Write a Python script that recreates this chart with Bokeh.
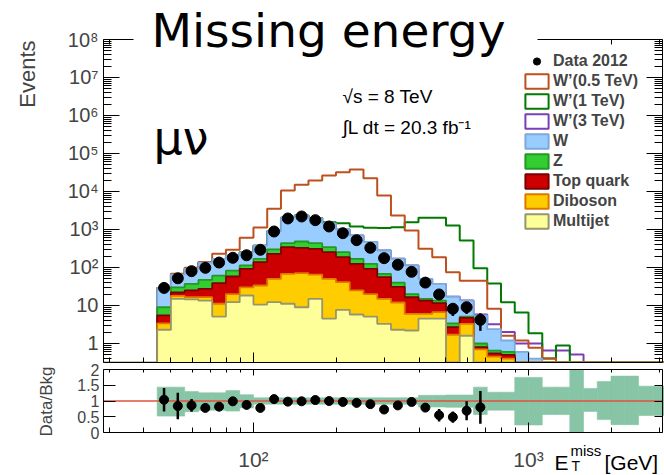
import numpy as np
from bokeh.plotting import figure
from bokeh.layouts import column
from bokeh.models import (Range1d, FixedTicker, LogAxis, LinearAxis, CustomJSTickFormatter,
                          Label, Legend, LegendItem, BoxAnnotation)
from bokeh.embed import file_html
from bokeh.resources import INLINE

# ---------------- data ----------------
bin_edges = [44.67, 50.12, 56.23, 63.10, 70.79, 79.43, 89.13, 100.0, 112.2, 125.9, 141.3,
             158.5, 177.8, 199.5, 223.9, 251.2, 281.8, 316.2, 354.8, 398.1, 446.7, 501.2,
             562.3, 631.0, 707.9, 794.3, 891.3, 1000.0, 1122.0, 1259.0, 1413.0, 1585.0,
             1778.0, 1995.0, 2239.0, 2512.0, 2818.0, 3162.0]

# cumulative stack tops per bin (W is the top of the whole background stack)
stack_w = [29, 65, 92, 135, 168, 205, 250, 375, 900, 2050, 2350, 2000, 1450, 1000, 700, 470,
           280, 170, 113, 50, 37, 17, 13.5, 5.5, 2.4, 1.2, 0.6, 0.4, 0, 0, 0, 0, 0, 0, 0, 0, 0]
stack_z = [9, 30, 37, 47, 61, 83, 113, 169, 298, 437, 483, 437, 343, 253, 169, 125,
           68, 40, 20, 15, 13.5, 3.4, 5.1, 1.0, 0.65, 0.6, 0, 0, 0, 0, 0, 0, 0, 0, 0, 0, 0]
stack_top = [5.5, 22, 25, 27.5, 39, 58, 92, 138, 229, 343, 329, 310, 253, 187, 125, 92,
             56, 31, 16.5, 13.5, 11.5, 2.7, 4.7, 0.8, 0.55, 0.5, 0, 0, 0, 0, 0, 0, 0, 0, 0, 0, 0]
stack_dib = [3.4, 18, 16.6, 16.6, 11.1, 20, 30, 33.6, 50, 68, 71, 65, 50, 41, 25, 20,
             15, 12, 6, 6, 6.7, 1.7, 3.3, 0.7, 0.45, 0.4, 0, 0, 0, 0, 0, 0, 0, 0, 0, 0, 0]
stack_mj = [2.3, 15, 14.4, 13.5, 5.1, 12.2, 18.3, 10.6, 12.2, 11.1, 9, 15, 4.5, 7.7, 5.8, 5.1,
            3.3, 2.3, 2.2, 4.5, 4.5, 0, 1.6, 0, 0, 0, 0, 0, 0, 0, 0, 0, 0, 0, 0, 0, 0]

# signal + background totals
wp05 = [29, 68, 98, 140, 230, 292, 604, 1130, 3500, 10600, 15000, 19500, 26300, 32200, 37900,
        22400, 7850, 2335, 937, 310, 186, 75, 45, 45, 8.2, 1.6, 1.2, 0.77, 0.4, 0, 0, 0, 0, 0, 0, 0, 0]
wp1 = [29, 65, 92, 135, 168, 205, 250, 375, 900, 2050, 2350, 2000, 1560, 1466, 1200, 1107,
       1100, 1150, 1560, 2030, 2030, 1270, 513, 95, 38, 12.2, 6.5, 1.87, 0.4, 0.89, 0, 0, 0, 0, 0, 0, 0]
wp3 = [29, 65, 92, 135, 168, 205, 250, 375, 900, 2050, 2350, 2000, 1450, 1000, 700, 470,
       280, 170, 113, 50, 37, 17, 13.5, 5.8, 3.2, 2.0, 1.0, 1.0, 0.65, 0.65, 0.51, 0, 0, 0, 0, 0, 0]

# data 2012 (first 24 bins)
data_counts = [29, 52, 80, 98, 135, 180, 210, 292, 886, 1950, 2200, 1760, 1200, 800, 523, 330,
               176, 118, 77, 40, 19.5, 8.2, 9, 4.2]
data_err = [5.4, 7.2, 8.9, 9.9, 11.6, 13.4, 14.5, 17.1, 29.8, 44.2, 46.9, 42.0, 34.6, 28.3, 22.9,
            18.2, 13.3, 10.9, 8.8, 6.3, 4.4, 2.9, 3.0, 2.05]

# ratio panel
ratio_vals = [1.04, 0.84, 0.86, 0.78, 0.82, 0.99, 0.875, 0.78, 1.06, 0.98, 0.99, 1.03, 1.0, 0.97,
              0.94, 0.9, 0.73, 0.86, 0.97, 0.79, 0.55, 0.49, 0.69, 0.8]
ratio_err = [0.37, 0.42, 0.2, 0.12, 0.1, 0.09, 0.08, 0.07, 0.05, 0.03, 0.03, 0.03, 0.04, 0.04,
             0.05, 0.06, 0.06, 0.08, 0.1, 0.12, 0.2, 0.18, 0.3, 0.52]
band_lo = [0.52, 0.52, 0.66, 0.71, 0.71, 0.68, 0.78, 0.90, 0.90, 0.90, 0.90, 0.90, 0.90, 0.90,
           0.90, 0.90, 0.90, 0.90, 0.90, 0.81, 0.81, 0.80, 0.80, 0.57, 0.71, 0.71, 0.24, 0.24,
           0.57, 0.57, 0.0, 0.67, 0.41, 0.25, 0.25, 0.54, 0.54]
band_hi = [1.44, 1.44, 1.30, 1.26, 1.26, 1.33, 1.20, 1.10, 1.10, 1.10, 1.10, 1.10, 1.10, 1.10,
           1.10, 1.10, 1.10, 1.10, 1.10, 1.18, 1.18, 1.19, 1.19, 1.44, 1.28, 1.28, 1.75, 1.75,
           1.44, 1.44, 2.0, 1.40, 1.62, 1.79, 1.79, 1.47, 1.47]

# ticks
y_tick_values = [1, 10, 1e2, 1e3, 1e4, 1e5, 1e6, 1e7, 1e8]
y_tick_labels = ["1", "10", "10²", "10³", "10⁴", "10⁵", "10⁶", "10⁷", "10⁸"]
x_tick_values = [100, 1000]
x_tick_labels = ["10²", "10³"]
ratio_tick_values = [0, 0.5, 1, 1.5, 2]
ratio_tick_labels = ["0", "0.5", "1", "1.5", "2"]

legend_labels = ["Data 2012", "W’(0.5 TeV)", "W’(1 TeV)", "W’(3 TeV)", "W", "Z",
                 "Top quark", "Diboson", "Multijet"]

# ---------------- style / geometry ----------------
FONT = "Liberation Sans"
C_W, L_W = "#99CCFF", "#7EA9DB"
C_Z, L_Z = "#33CC33", "#229922"
C_T, L_T = "#CC0000", "#7F0000"
C_D, L_D = "#FFCC00", "#E07800"
C_M, L_M = "#FFFF99", "#96966E"
C_05, C_1, C_3 = "#BE501E", "#007A00", "#7B3FB5"
C_BAND = "#87C5A6"
C_ONE = "#E0503C"

W = 664
H1, H2 = 363, 112
FL, FR = 103, 662          # visible frame, canvas px
FT1, FB1 = 39, 362         # main frame top/bottom (canvas px)
FT2, FB2 = 6, 69           # ratio frame top/bottom (px inside ratio canvas)

X_LO, X_HI = 28.5, 3070.0
Y_LO, Y_HI = 0.316, 1e8
R_LO, R_HI = 0.0, 2.0

# the plotting frames cover the whole canvas; axes sit at fixed locations
pdx = (FR - FL) / np.log10(X_HI / X_LO)
xr_lo = X_LO / 10 ** (FL / pdx)
xr_hi = X_HI * 10 ** ((W - FR) / pdx)
pdy = (FB1 - FT1) / np.log10(Y_HI / Y_LO)
yr_hi = Y_HI * 10 ** (FT1 / pdy)
yr_lo = Y_LO / 10 ** ((H1 - FB1) / pdy)
pr = (FB2 - FT2) / (R_HI - R_LO)
rr_hi = R_HI + FT2 / pr
rr_lo = R_LO - (H2 - FB2) / pr

edges = np.asarray(bin_edges, float)
centers = np.sqrt(edges[:-1] * edges[1:])


def step_xy(vals, floor, extend=False):
    v = np.maximum(np.asarray(vals, float), floor)
    xs = np.repeat(edges, 2)
    ys = np.concatenate([[floor], np.repeat(v, 2), [floor]])
    if extend:
        xs = np.concatenate([[X_LO], xs, [X_HI]])
        ys = np.concatenate([[floor], ys, [floor]])
    return xs, ys


def label_formatter(vals, labs):
    return CustomJSTickFormatter(args=dict(vals=list(vals), labs=list(labs)), code="""
        for (let i = 0; i < vals.length; i++) {
            if (Math.abs(tick - vals[i]) <= 1e-9 + 1e-6 * Math.abs(vals[i])) return labs[i];
        }
        return "";
    """)


def style_axis(ax, maj, mnr, loc, bounds, labels=True, size="19px", standoff=6):
    ax.fixed_location = loc
    ax.bounds = bounds
    ax.major_tick_in = maj
    ax.major_tick_out = 0
    ax.minor_tick_in = mnr
    ax.minor_tick_out = 0
    ax.axis_line_color = "black"
    ax.axis_line_width = 1
    ax.major_tick_line_color = "black"
    ax.minor_tick_line_color = "black"
    ax.major_label_text_font = FONT
    if labels:
        ax.major_label_text_font_size = size
        ax.major_label_standoff = standoff
    else:
        ax.formatter = CustomJSTickFormatter(code="return '';")
        ax.major_label_text_font_size = "0px"
        ax.major_label_standoff = 0


def txt(fig, x, y, text, size, font=FONT, **kw):
    fig.add_layout(Label(x=x, y=y, x_units="screen", y_units="screen", text=text,
                         text_font=font, text_font_size=size, text_color="black",
                         text_baseline="alphabetic", **kw))


x_range = Range1d(xr_lo, xr_hi)

# ---------------- main panel ----------------
p1 = figure(width=W, height=H1, x_axis_type="log", y_axis_type="log", title=None,
            x_range=x_range, y_range=Range1d(yr_lo, yr_hi),
            output_backend="svg", toolbar_location=None,
            min_border_left=0, min_border_right=0, min_border_top=0, min_border_bottom=0)
p1.outline_line_color = None
p1.grid.visible = False
p1.background_fill_color = "white"
p1.border_fill_color = "white"

y_minor = [m * 10.0 ** e for e in range(-1, 8) for m in range(2, 10)]
x_minor = [30, 40, 50, 60, 70, 80, 90, 200, 300, 400, 500, 600, 700, 800, 900, 2000, 3000]
yt = FixedTicker(ticks=y_tick_values, minor_ticks=y_minor)
xt = FixedTicker(ticks=x_tick_values, minor_ticks=x_minor)

p1.yaxis.ticker = yt
p1.yaxis.formatter = label_formatter(y_tick_values, y_tick_labels)
style_axis(p1.yaxis[0], 16, 8, X_LO, (Y_LO, Y_HI), True, "20px", 5)
p1.xaxis.ticker = xt
style_axis(p1.xaxis[0], 10, 5, Y_LO, (X_LO, X_HI), labels=False)

ax_r = LogAxis(ticker=yt)
style_axis(ax_r, 16, 8, X_HI, (Y_LO, Y_HI), labels=False)
p1.add_layout(ax_r, "right")
ax_t = LogAxis(ticker=xt)
style_axis(ax_t, 10, 5, Y_HI, (X_LO, X_HI), labels=False)
p1.add_layout(ax_t, "above")

# signal lines (drawn under the stack)
for vals, col in [(wp3, C_3), (wp1, C_1), (wp05, C_05)]:
    xs, ys = step_xy(vals, Y_LO)
    p1.line(xs, ys, line_color=col, line_width=2)

# background stack
for vals, fc, lc, ext in [(stack_w, C_W, L_W, False), (stack_z, C_Z, L_Z, False),
                          (stack_top, C_T, L_T, False), (stack_dib, C_D, L_D, False),
                          (stack_mj, C_M, L_M, True)]:
    xs, ys = step_xy(vals, Y_LO)
    p1.patch(xs, ys, fill_color=fc, line_color=None)
    xs2, ys2 = step_xy(vals, Y_LO, extend=ext)
    p1.line(xs2, ys2, line_color=lc, line_width=1.8)

# data
nd = len(data_counts)
dc = np.asarray(data_counts, float)
de = np.asarray(data_err, float)
p1.segment(centers[:nd], dc - de, centers[:nd], dc + de, line_color="black", line_width=2.5)
r_data = p1.scatter(centers[:nd], dc, size=11, marker="circle", fill_color="black", line_color="black")


# legend swatches: one-row renderers that lie outside the visible ranges
def swatch(fc, lc, lw=2):
    return p1.quad(left=[xr_hi * 2], right=[xr_hi * 3], bottom=[yr_hi * 2], top=[yr_hi * 3],
                   fill_color=fc, line_color=lc, line_width=lw)


sw = [r_data, swatch("white", C_05), swatch("white", C_1), swatch("white", C_3),
      swatch(C_W, L_W), swatch(C_Z, L_Z), swatch(C_T, L_T), swatch(C_D, L_D), swatch(C_M, L_M)]
legend = Legend(items=[LegendItem(label=lab, renderers=[r]) for lab, r in zip(legend_labels, sw)],
                location=(522, H1 - 230), orientation="vertical", glyph_width=29, glyph_height=18,
                label_height=18, spacing=2, label_standoff=2, padding=0, margin=0,
                border_line_color=None, background_fill_alpha=0,
                label_text_font=FONT, label_text_font_style="bold", label_text_font_size="16px")
p1.add_layout(legend)

# white panel behind the big title (it hides the top frame edge, as in the reference)
p1.add_layout(BoxAnnotation(left=133, right=537, top=H1, bottom=H1 - 62,
                            left_units="screen", right_units="screen",
                            top_units="screen", bottom_units="screen",
                            fill_color="white", fill_alpha=1.0, line_color=None))

# texts (screen units = canvas px, y measured from the bottom of the canvas)
txt(p1, 151, H1 - 30, "Missing energy", "47px", font="DejaVu Sans")
txt(p1, 153, H1 - 137, "μν", "46px", font="DejaVu Sans")
txt(p1, 342, H1 - 96, "√s = 8 TeV", "19px")
txt(p1, 342, H1 - 127, "∫L dt = 20.3 fb⁻¹", "19px")
p1.add_layout(Label(x=27, y=H1 - 40, x_units="screen", y_units="screen", text="Events",
                    angle=np.pi / 2, text_align="right", text_baseline="alphabetic",
                    text_font=FONT, text_font_size="22px"))

# ---------------- ratio panel ----------------
p2 = figure(width=W, height=H2, x_axis_type="log", title=None, x_range=x_range,
            y_range=Range1d(rr_lo, rr_hi), output_backend="svg", toolbar_location=None,
            min_border_left=0, min_border_right=0, min_border_top=0, min_border_bottom=0)
p2.outline_line_color = None
p2.grid.visible = False
p2.background_fill_color = "white"
p2.border_fill_color = "white"

rt = FixedTicker(ticks=ratio_tick_values, minor_ticks=[])
p2.yaxis.ticker = rt
p2.yaxis.formatter = label_formatter(ratio_tick_values, ratio_tick_labels)
style_axis(p2.yaxis[0], 12, 0, X_LO, (R_LO, R_HI), True, "16px", 4)
p2.xaxis.ticker = xt
p2.xaxis.formatter = label_formatter(x_tick_values, x_tick_labels)
style_axis(p2.xaxis[0], 10, 5, R_LO, (X_LO, X_HI), True, "21px", 15)

ax_r2 = LinearAxis(ticker=rt)
style_axis(ax_r2, 8, 0, X_HI, (R_LO, R_HI), labels=False)
p2.add_layout(ax_r2, "right")
ax_t2 = LogAxis(ticker=xt)
style_axis(ax_t2, 6, 3, R_HI, (X_LO, X_HI), labels=False)
p2.add_layout(ax_t2, "above")

p2.quad(left=edges[:-1], right=edges[1:], bottom=band_lo, top=band_hi,
        fill_color=C_BAND, line_color=C_BAND, line_width=0.6)
p2.line([X_LO, X_HI], [1, 1], line_color=C_ONE, line_width=1.5)
rv = np.asarray(ratio_vals, float)
re_ = np.asarray(ratio_err, float)
p2.segment(centers[:nd], rv - re_, centers[:nd], rv + re_, line_color="black", line_width=2.5)
p2.scatter(centers[:nd], rv, size=9, marker="circle", fill_color="black", line_color="black")

p2.add_layout(Label(x=46, y=H2 - 38, x_units="screen", y_units="screen", text="Data/Bkg",
                    angle=np.pi / 2, text_align="center", text_baseline="alphabetic",
                    text_font=FONT, text_font_size="17px"))
txt(p2, 554, H2 - 99, "E", "21px")
txt(p2, 571, H2 - 102, "T", "14px")
txt(p2, 570, H2 - 87, "miss", "15px")
txt(p2, 604, H2 - 99, "[GeV]", "21px")

layout = column(p1, p2, spacing=0)
open("out.html", "w").write(file_html(layout, INLINE))
